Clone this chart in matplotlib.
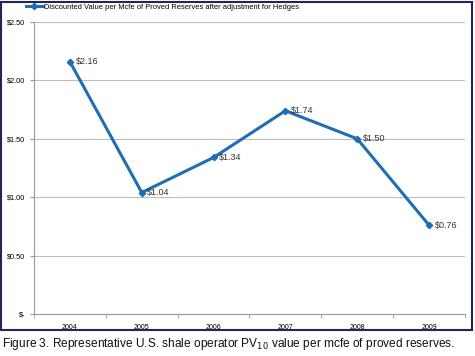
import matplotlib
matplotlib.use("Agg")
import matplotlib.pyplot as plt
from matplotlib.patches import Rectangle

years = ["2004", "2005", "2006", "2007", "2008", "2009"]
values = [2.16, 1.04, 1.34, 1.74, 1.50, 0.76]
labels = ["$2.16", "$1.04", "$1.34", "$1.74", "$1.50", "$0.76"]
yticks = [0, 0.5, 1.0, 1.5, 2.0, 2.5]
yticklabels = ["$-", "$0.50", "$1.00", "$1.50", "$2.00", "$2.50"]
series_name = "Discounted Value per Mcfe of Proved Reserves after adjustment for Hedges"

plt.rcParams['font.family'] = ['Liberation Sans', 'DejaVu Sans']

fig = plt.figure(figsize=(4.75, 3.56), dpi=100)
W, H = 475, 356
ax = fig.add_axes([34/W, 1-314/H, (465-34)/W, (314-22)/H])

color = "#1f6db3"
x = list(range(len(years)))
ax.plot(x, values, color=color, lw=2.2, marker="D", ms=3.2, label=series_name)
for xi, v, lab in zip(x, values, labels):
    ax.annotate(lab, (xi, v), xytext=(4, 0), textcoords="offset points",
                fontsize=6.5, va="center", ha="left", color="#333333")

ax.set_xlim(-0.5, 5.5)
ax.set_ylim(0, 2.5)
ax.set_yticks(yticks)
ax.set_yticklabels(yticklabels, fontsize=5.3)
ax.set_xticks(x)
ax.set_xticklabels(years, fontsize=5)
ax.yaxis.grid(True, color="#bdbdbd", lw=0.8)
ax.set_axisbelow(True)
for s in ["top", "right"]:
    ax.spines[s].set_visible(False)
ax.spines["left"].set_color("#999999")
ax.spines["bottom"].set_color("#999999")
ax.tick_params(axis="y", length=3, color="#999999", pad=3)
ax.tick_params(axis="x", length=0, pad=7)
ax.set_xticks([i + 0.5 for i in range(-1, 6)], minor=True)
ax.tick_params(axis="x", which="minor", length=3, color="#999999")

leg = ax.legend(loc="upper left", bbox_to_anchor=(26/W, 1-3.5/H), bbox_transform=fig.transFigure,
                frameon=False, fontsize=5.4, handlelength=2.2, handletextpad=0.2, borderaxespad=0,
                borderpad=0)

fig.add_artist(Rectangle((1/W, 1-330/H), 471/W, 328/H, transform=fig.transFigure,
                         fill=False, edgecolor="#23235e", lw=1.5))

fig.text(2/W, 1-344/H, "Figure 3. Representative U.S. shale operator PV$_{10}$ value per mcfe of proved reserves.",
         fontsize=8.6, va="center", ha="left", color="#111111")

fig.savefig("out.png", dpi=100)
